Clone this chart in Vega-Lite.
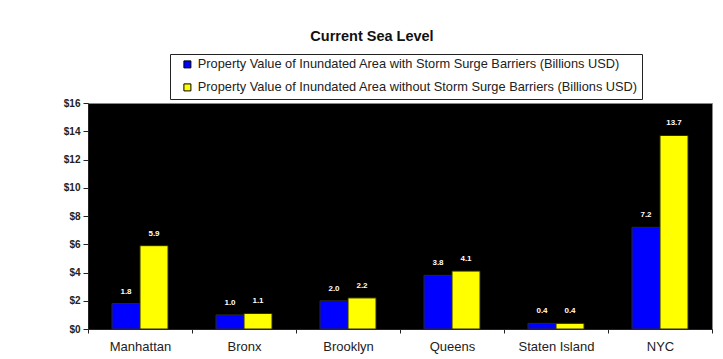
{
  "$schema": "https://vega.github.io/schema/vega-lite/v6.json",
  "width": 624,
  "height": 226,
  "autosize": {"type": "none"},
  "padding": {"left": 88, "top": 103, "right": 11, "bottom": 30},
  "background": "white",
  "title": {
    "text": "Current Sea Level",
    "font": "Liberation Sans",
    "fontSize": 14.5,
    "fontWeight": "bold",
    "color": "#111",
    "anchor": "middle",
    "dx": -28,
    "offset": 9
  },
  "config": {
    "view": {"fill": "black", "stroke": "#888", "strokeWidth": 1},
    "axis": {"grid": false, "labelFont": "Liberation Sans", "labelColor": "#222", "domainColor": "#222", "tickColor": "#222", "titleFont": "Liberation Sans"},
    "legend": {"labelFont": "Liberation Sans"}
  },
  "data": {
    "values": [
      {"borough": "Manhattan", "series": "Property Value of Inundated Area with Storm Surge Barriers (Billions USD)", "value": 1.8},
      {"borough": "Manhattan", "series": "Property Value of Inundated Area without Storm Surge Barriers (Billions USD)", "value": 5.9},
      {"borough": "Bronx", "series": "Property Value of Inundated Area with Storm Surge Barriers (Billions USD)", "value": 1.0},
      {"borough": "Bronx", "series": "Property Value of Inundated Area without Storm Surge Barriers (Billions USD)", "value": 1.1},
      {"borough": "Brooklyn", "series": "Property Value of Inundated Area with Storm Surge Barriers (Billions USD)", "value": 2.0},
      {"borough": "Brooklyn", "series": "Property Value of Inundated Area without Storm Surge Barriers (Billions USD)", "value": 2.2},
      {"borough": "Queens", "series": "Property Value of Inundated Area with Storm Surge Barriers (Billions USD)", "value": 3.8},
      {"borough": "Queens", "series": "Property Value of Inundated Area without Storm Surge Barriers (Billions USD)", "value": 4.1},
      {"borough": "Staten Island", "series": "Property Value of Inundated Area with Storm Surge Barriers (Billions USD)", "value": 0.4},
      {"borough": "Staten Island", "series": "Property Value of Inundated Area without Storm Surge Barriers (Billions USD)", "value": 0.4},
      {"borough": "NYC", "series": "Property Value of Inundated Area with Storm Surge Barriers (Billions USD)", "value": 7.2},
      {"borough": "NYC", "series": "Property Value of Inundated Area without Storm Surge Barriers (Billions USD)", "value": 13.7}
    ]
  },
  "encoding": {
    "x": {
      "field": "borough",
      "type": "nominal",
      "sort": ["Manhattan", "Bronx", "Brooklyn", "Queens", "Staten Island", "NYC"],
      "scale": {"paddingInner": 0, "paddingOuter": 0},
      "axis": {"title": null, "labelAngle": 0, "labelFontSize": 13, "labelPadding": 7, "tickBand": "extent", "tickSize": 4, "labelLimit": 200}
    },
    "xOffset": {
      "field": "series",
      "type": "nominal",
      "scale": {"paddingInner": 0, "paddingOuter": 0.857}
    },
    "y": {
      "field": "value",
      "type": "quantitative",
      "scale": {"domain": [0, 16], "nice": false},
      "axis": {"title": null, "values": [0, 2, 4, 6, 8, 10, 12, 14, 16], "labelExpr": "'$' + datum.value", "labelFontSize": 10, "labelFontWeight": "bold", "tickSize": 5, "labelPadding": 3}
    }
  },
  "layer": [
    {
      "mark": {"type": "bar", "stroke": "#2a2a10", "strokeWidth": 1},
      "encoding": {
        "color": {
          "field": "series",
          "type": "nominal",
          "scale": {"range": ["#0000ff", "#ffff00"]},
          "legend": {
            "title": null,
            "orient": "none",
            "legendX": 82,
            "legendY": -49,
            "direction": "vertical",
            "strokeColor": "#222",
            "fillColor": "white",
            "padding": 4,
            "rowPadding": 9,
            "symbolType": "square",
            "symbolSize": 49,
            "symbolStrokeColor": "black",
            "symbolStrokeWidth": 1,
            "symbolOffset": 7,
            "labelOffset": 4,
            "labelFontSize": 12.8,
            "labelColor": "#222",
            "labelLimit": 600
          }
        }
      }
    },
    {
      "mark": {"type": "text", "color": "white", "font": "Liberation Sans", "fontSize": 8, "fontWeight": "bold", "baseline": "middle", "dy": -12},
      "encoding": {
        "text": {"field": "value", "type": "quantitative", "format": ".1f"}
      }
    }
  ]
}
